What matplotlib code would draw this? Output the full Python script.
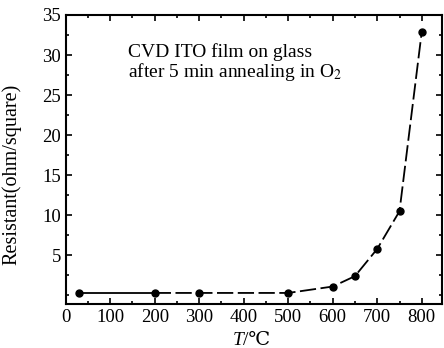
import matplotlib.pyplot as plt
from matplotlib.ticker import MultipleLocator

# measured sheet resistance vs annealing temperature
temps = [30, 200, 300, 500, 600, 650, 700, 750, 800]
resist = [0.3, 0.3, 0.3, 0.3, 1.1, 2.4, 5.8, 10.5, 32.9]

x_ticks = [0, 100, 200, 300, 400, 500, 600, 700, 800]
y_ticks = [5, 10, 15, 20, 25, 30, 35]

fonts = ['Liberation Serif', 'DejaVu Serif', 'DejaVu Sans', 'Noto Sans CJK SC']
plt.rcParams['font.family'] = fonts
plt.rcParams['mathtext.fontset'] = 'stix'

fig = plt.figure(figsize=(4.44, 3.48), dpi=100)
ax = fig.add_axes([0.148, 0.126, 0.847, 0.831])

# first segment solid, the rest long dashes
ax.plot(temps[:2], resist[:2], color='black', lw=1.3)
ax.plot(temps[1:], resist[1:], color='black', lw=1.3, dashes=(9, 2.5))
ax.plot(temps, resist, 'o', color='black', ms=5)

ax.set_xlim(0, 845)
ax.set_ylim(-1.1, 35)
ax.set_xticks(x_ticks)
ax.set_yticks(y_ticks)
ax.xaxis.set_minor_locator(MultipleLocator(50))
ax.yaxis.set_minor_locator(MultipleLocator(2.5))
ax.tick_params(which='both', direction='in', top=True, right=True, labelsize=13.5, width=1.2)
ax.tick_params(which='major', length=4)
ax.tick_params(which='minor', length=2)
for s in ax.spines.values():
    s.set_linewidth(1.5)

# x label: italic T followed by /℃ (kept out of mathtext so the glyph fallback works)
ax.text(0.472, -0.125, 'T', style='italic', fontsize=14, ha='right', va='center',
        transform=ax.transAxes)
ax.text(0.472, -0.125, '/℃', fontsize=14, ha='left', va='center',
        transform=ax.transAxes)

ax.set_ylabel('Resistant(ohm/square)', fontsize=14.5)
ax.yaxis.set_label_coords(-0.118, 0.45)

ax.text(141, 29.0, 'CVD ITO film on glass\nafter 5 min annealing in O$_2$',
        fontsize=14, va='center', ha='left', linespacing=1.0)

fig.savefig('out.png', dpi=100)
